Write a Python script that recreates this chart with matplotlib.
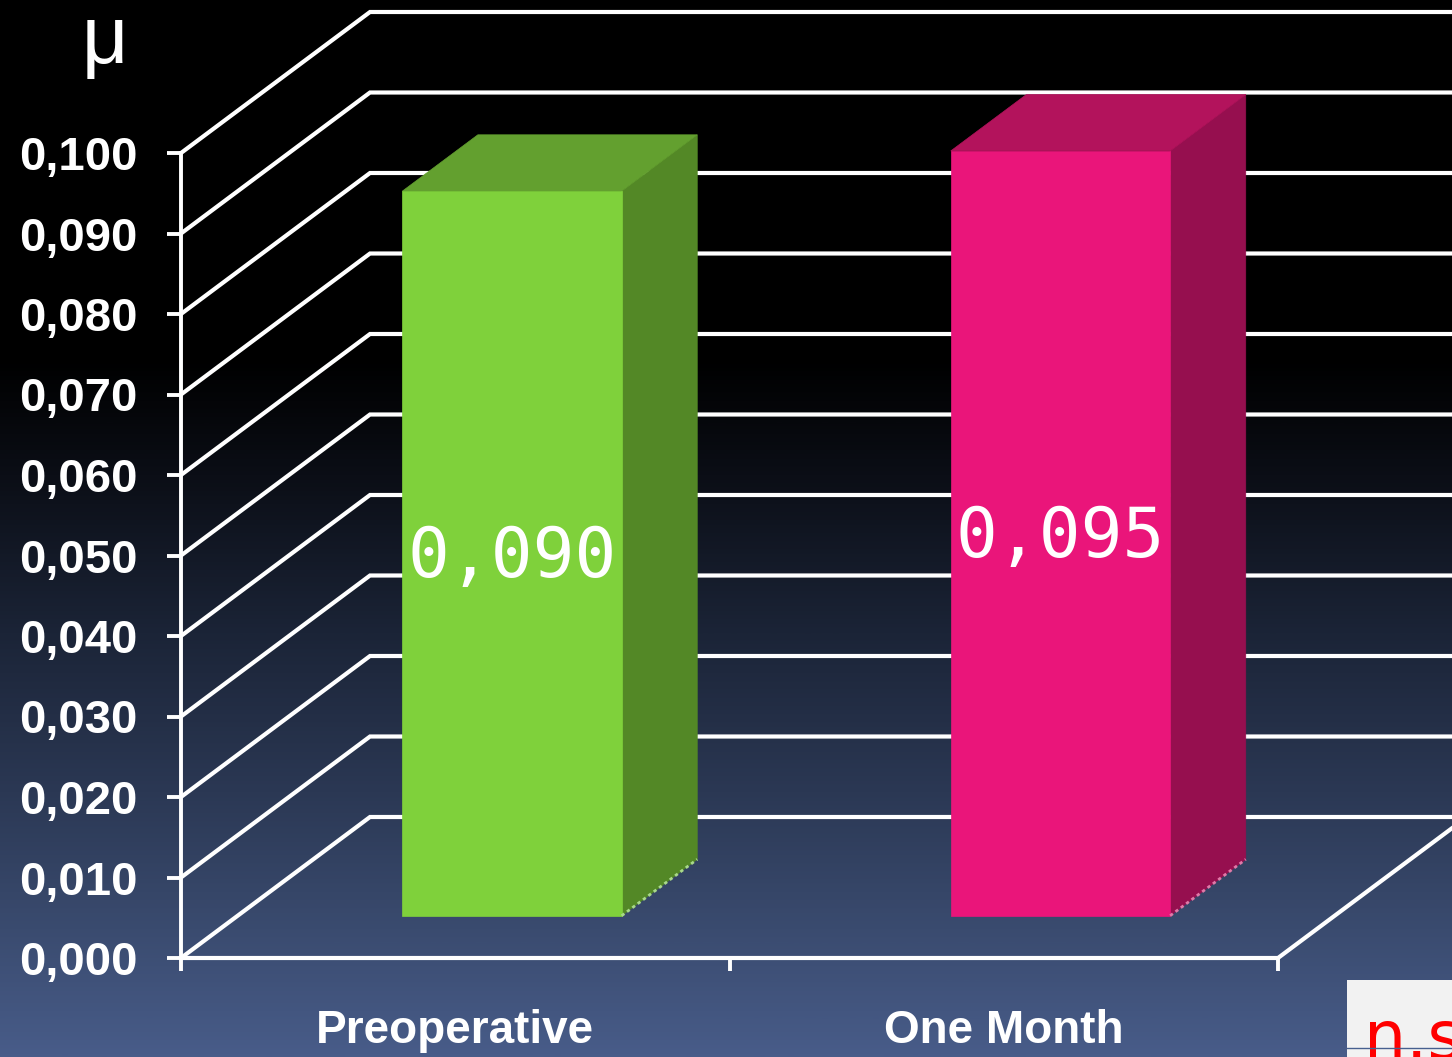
import numpy as np
import matplotlib
matplotlib.use("Agg")
import matplotlib.pyplot as plt
from matplotlib.patches import Polygon, Rectangle
from matplotlib.colors import LinearSegmentedColormap

# ---- data ----
categories = ["Preoperative", "One Month"]
values = [0.090, 0.095]
value_labels = ["0,090", "0,095"]
yticks = [0.000, 0.010, 0.020, 0.030, 0.040, 0.050, 0.060, 0.070, 0.080, 0.090, 0.100]
ytick_labels = ["0,000", "0,010", "0,020", "0,030", "0,040", "0,050",
                "0,060", "0,070", "0,080", "0,090", "0,100"]
front_colors = ["#7fd13b", "#ea157a"]
top_colors = ["#63a02f", "#b3135c"]
side_colors = ["#538826", "#960f4f"]
dot_colors = ["#a9d98a", "#e07aa8"]

W, H, DPI = 1452, 1057, 100
fig = plt.figure(figsize=(W / DPI, H / DPI), dpi=DPI)

# background gradient
bg = fig.add_axes([0, 0, 1, 1], zorder=-10)
bg.axis("off")
cmap = LinearSegmentedColormap.from_list("bg", [
    (0.0, "#000000"), (0.34, "#000000"), (0.45, "#0b0e16"), (0.60, "#1b2437"),
    (0.75, "#2b3854"), (0.88, "#3a4b6f"), (1.0, "#485c89")])
grad = np.linspace(0, 1, 512).reshape(-1, 1)
bg.imshow(grad, aspect="auto", cmap=cmap, extent=[0, 1, 1, 0])
bg.set_xlim(0, 1); bg.set_ylim(1, 0)

# main axes: front plane of the 3D box
left, right, bottom, top = 181, 1278, 958, 153
ax = fig.add_axes([left / W, 1 - bottom / H, (right - left) / W, (bottom - top) / H])
ax.set_facecolor("none")
ax.set_xlim(0, 2)
ax.set_ylim(0, 0.100)

# depth vector (full depth) in data units
DX = 189 / (right - left) * 2.0
DY = 141 / (bottom - top) * 0.100

def proj(x, y, d):
    return (x + d * DX, y + d * DY)

lw = 3.0
white = "white"
# grid lines: left wall diagonal + back wall horizontal
for v in yticks:
    p0 = proj(0, v, 0); p1 = proj(0, v, 1); p2 = proj(2, v, 1)
    ax.plot([p0[0], p1[0], p2[0]], [p0[1], p1[1], p2[1]], color=white, lw=lw,
            clip_on=False, solid_joinstyle="miter", zorder=1)
# floor front edge and right diagonal
p0 = proj(0, 0, 0); p1 = proj(2, 0, 0); p2 = proj(2, 0, 1)
ax.plot([p0[0], p1[0], p2[0]], [p0[1], p1[1], p2[1]], color=white, lw=lw,
        clip_on=False, zorder=1)

# bars
d0, d1 = 0.3, 0.7
half = 0.2
for i, (v, lab) in enumerate(zip(values, value_labels)):
    c = i + 0.5
    xl, xr = c - half, c + half
    front = [proj(xl, 0, d0), proj(xr, 0, d0), proj(xr, v, d0), proj(xl, v, d0)]
    side = [proj(xr, 0, d0), proj(xr, 0, d1), proj(xr, v, d1), proj(xr, v, d0)]
    topf = [proj(xl, v, d0), proj(xr, v, d0), proj(xr, v, d1), proj(xl, v, d1)]
    for poly, col in [(side, side_colors[i]), (topf, top_colors[i]), (front, front_colors[i])]:
        ax.add_patch(Polygon(poly, closed=True, facecolor=col, edgecolor=col, lw=0.5,
                             clip_on=False, zorder=3))
    a, b = proj(xr, 0, d0), proj(xr, 0, d1)
    ax.plot([a[0], b[0]], [a[1], b[1]], color=dot_colors[i], lw=2.0, ls=(0, (1.2, 1.2)),
            clip_on=False, zorder=4)
    cx, cy = proj(c, v / 2, d0)
    ax.text(cx, cy - 0.0005, lab, ha="center", va="center", color="white",
            family="DejaVu Sans Mono", fontsize=50, zorder=5)

# axes styling
for s in ["top", "right"]:
    ax.spines[s].set_visible(False)
ax.spines["left"].set_color(white); ax.spines["left"].set_linewidth(2.8)
ax.spines["bottom"].set_visible(False)
ax.set_yticks(yticks)
ax.set_yticklabels(ytick_labels)
ax.set_xticks([0, 1, 2])
ax.set_xticklabels(["", "", ""])
ax.set_xticks([0.5, 1.5], minor=True)
ax.set_xticklabels(categories, minor=True)
ax.tick_params(axis="y", colors=white, length=10, width=2.8, pad=21, labelsize=34)
ax.tick_params(axis="x", which="major", colors=white, length=9, width=2.8)
ax.tick_params(axis="x", which="minor", colors=white, length=0, pad=37, labelsize=33)
for t in ax.get_yticklabels() + ax.get_xticklabels(minor=True):
    t.set_family("Liberation Sans")
    t.set_fontweight("bold")

# mu label
fig.text(105 / W, 1 - 42 / H, "μ", color="white", fontsize=58, ha="center", va="center",
         family="Liberation Sans")

# n.s box
fig.patches.append(Rectangle((1347 / W, 0), 1 - 1347 / W, (1057 - 980) / H,
                             transform=fig.transFigure, facecolor="#f2f2f2",
                             edgecolor="none", zorder=5))
fig.text(1364 / W, 1 - 1059 / H, "n.s", color="#ff0000", fontsize=48,
         family="DejaVu Sans", ha="left", va="baseline", zorder=6)
fig.lines.append(plt.Line2D([1347 / W, 1], [1 - 1048 / H, 1 - 1048 / H],
                            transform=fig.transFigure, color="#47608f", lw=1, zorder=7))

fig.savefig("out.png", dpi=DPI)
